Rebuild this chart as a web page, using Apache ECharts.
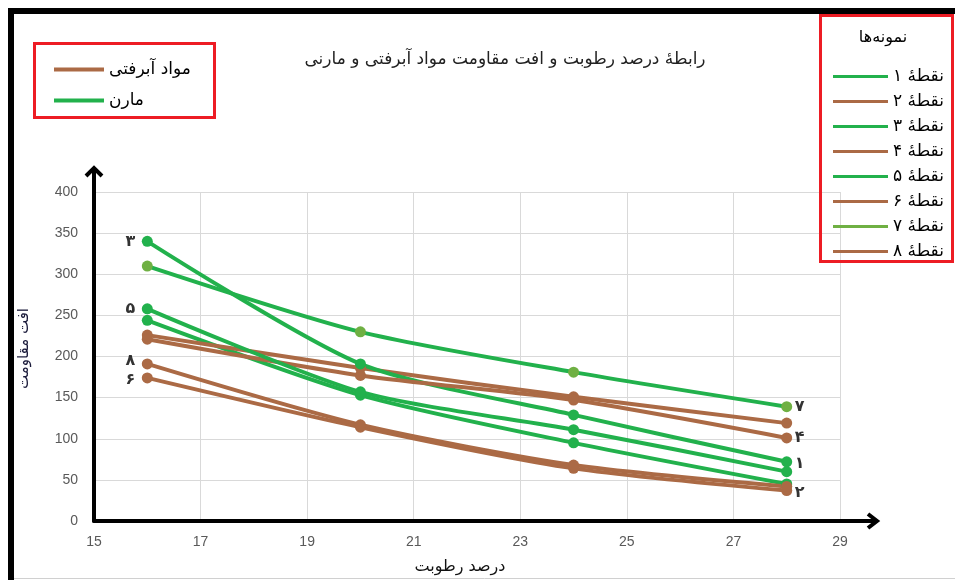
<!DOCTYPE html>
<html>
<head>
<meta charset="utf-8">
<script src="https://cdn.jsdelivr.net/npm/echarts@6/dist/echarts.min.js"></script>
<style>
html,body{margin:0;padding:0;background:#fff;}
#chart{width:955px;height:580px;}
</style>
</head>
<body>
<div id="chart"></div>
<script>
// ---- data ----
const titleText = 'رابطهٔ درصد رطوبت و افت مقاومت مواد آبرفتی و مارنی';
const xAxisName = 'درصد رطوبت';
const yAxisName = 'افت مقاومت';
const legendTitle = 'نمونه‌ها';
const groupNames = ['مواد آبرفتی', 'مارن'];
const moisture = [16, 20, 24, 28];
const seriesNames = ['نقطهٔ ۱', 'نقطهٔ ۲', 'نقطهٔ ۳', 'نقطهٔ ۴', 'نقطهٔ ۵', 'نقطهٔ ۶', 'نقطهٔ ۷', 'نقطهٔ ۸'];
const p1 = [244, 153, 95, 45];
const p2 = [226, 186, 151, 119];
const p3 = [340, 191, 129, 72];
const p4 = [221, 177, 147, 101];
const p5 = [258, 157, 111, 60];
const p6 = [174, 114, 64, 37];
const p7 = [310, 230, 181, 139];
const p8 = [191, 117, 68, 42];
const seriesValues = [p1, p2, p3, p4, p5, p6, p7, p8];
// group of each series: 0 = alluvial (brown), 1 = marl (green)
const seriesGroup = [1, 0, 1, 0, 1, 0, 1, 0];
// number annotations on points: [label, x, y, side]
const pointLabels = [
  ['۳', 16, 340, 'left'],
  ['۵', 16, 258, 'left'],
  ['۸', 16, 195, 'left'],
  ['۶', 16, 172, 'left'],
  ['۷', 28, 139, 'right'],
  ['۴', 28, 101, 'right'],
  ['۱', 28, 70, 'right'],
  ['۲', 28, 34, 'right']
];
const xTicks = {min: 15, max: 29, interval: 2};
const yTicks = {min: 0, max: 400, interval: 50};

// ---- styles ----
const BROWN = '#AB6A45';
const GREEN = '#22B14C';
const groupColors = [BROWN, GREEN];
const FONT = 'DejaVu Sans';

const chart = echarts.init(document.getElementById('chart'), null, {renderer: 'canvas'});

const series = seriesNames.map((name, i) => ({
  name: name,
  type: 'line',
  smooth: 0.25,
  data: moisture.map((x, j) => [x, seriesValues[i][j]]),
  symbol: 'circle',
  symbolSize: 11,
  lineStyle: {width: 4, color: groupColors[seriesGroup[i]]},
  itemStyle: {color: i === 6 ? '#6FB043' : groupColors[seriesGroup[i]]},
  emphasis: {disabled: true},
  z: 3
}));
groupNames.forEach((g, k) => {
  series.push({
    name: g, type: 'line', data: [],
    lineStyle: {color: groupColors[k]}, itemStyle: {color: groupColors[k]}
  });
});
series.push({
  type: 'scatter',
  name: 'labels',
  symbolSize: 0,
  z: 5,
  data: pointLabels.map(p => ({
    name: p[0], value: [p[1], p[2]],
    label: {position: p[3], distance: p[3] === 'left' ? 12 : 8}
  })),
  label: {
    show: true, formatter: '{b}', color: '#000',
    fontFamily: FONT, fontSize: 16, fontWeight: 'bold'
  },
  silent: true
});

chart.setOption({
  animation: false,
  backgroundColor: '#fff',
  title: {
    text: titleText, left: 500, top: 46, textAlign: 'center',
    textStyle: {fontFamily: FONT, fontSize: 17, fontWeight: 'normal', color: '#222'}
  },
  grid: {left: 94, right: 115, top: 192, bottom: 59},
  xAxis: {
    type: 'value', min: xTicks.min, max: xTicks.max, interval: xTicks.interval,
    name: xAxisName, nameLocation: 'middle', nameGap: 38,
    nameTextStyle: {fontFamily: FONT, fontSize: 16, color: '#111', padding: [0, 14, 0, 0]},
    axisLine: {show: true, onZero: false, lineStyle: {color: '#000', width: 4}},
    axisTick: {show: false},
    axisLabel: {margin: 14, color: '#595959', fontFamily: 'Liberation Sans', fontSize: 14},
    splitLine: {show: true, lineStyle: {color: '#D9D9D9', width: 1}}
  },
  yAxis: {
    type: 'value', min: yTicks.min, max: yTicks.max, interval: yTicks.interval,
    name: yAxisName, nameLocation: 'middle', nameGap: 62, nameRotate: 90,
    nameTextStyle: {fontFamily: FONT, fontSize: 15, color: '#1a1a3a', padding: [0, 0, 0, 16]},
    axisLine: {show: true, lineStyle: {color: '#000', width: 4}},
    axisTick: {show: false},
    axisLabel: {margin: 16, color: '#595959', fontFamily: 'Liberation Sans', fontSize: 14},
    splitLine: {show: true, lineStyle: {color: '#D9D9D9', width: 1}}
  },
  legend: [
    {
      data: seriesNames, orient: 'vertical', left: 828, top: 63,
      icon: 'rect', itemWidth: 55, itemHeight: 3, itemGap: 8,
      selectedMode: false,
      textStyle: {fontFamily: FONT, fontSize: 17, color: '#000'}
    },
    {
      data: groupNames, orient: 'vertical', left: 49, top: 56,
      icon: 'rect', itemWidth: 50, itemHeight: 4, itemGap: 14,
      selectedMode: false,
      textStyle: {fontFamily: FONT, fontSize: 17, color: '#000'}
    }
  ],
  series: series
});

// decorations: frame, boxes, axis arrows
const o = chart.convertToPixel({gridIndex: 0}, [xTicks.min, yTicks.min]);
const xe = chart.convertToPixel({gridIndex: 0}, [xTicks.max, yTicks.min]);
const ye = chart.convertToPixel({gridIndex: 0}, [xTicks.min, yTicks.max]);
const xArrowEnd = xe[0] + 37;
const yArrowEnd = ye[1] - 24;
chart.setOption({
  graphic: [
    {type: 'line', shape: {x1: 8, y1: 11, x2: 955, y2: 11}, style: {stroke: '#000', lineWidth: 6}},
    {type: 'line', shape: {x1: 11, y1: 8, x2: 11, y2: 580}, style: {stroke: '#000', lineWidth: 6}},
    {type: 'line', shape: {x1: 14, y1: 578.5, x2: 955, y2: 578.5}, style: {stroke: '#D0D0D0', lineWidth: 1}},
    {type: 'rect', shape: {x: 34.5, y: 43.5, width: 180, height: 74}, style: {fill: 'none', stroke: '#ED1C24', lineWidth: 3}},
    {type: 'rect', shape: {x: 820.5, y: 15.5, width: 132, height: 246}, style: {fill: 'none', stroke: '#ED1C24', lineWidth: 3}},
    {type: 'text', x: 883, y: 38, style: {text: legendTitle, fontFamily: FONT, fontSize: 16, fill: '#000', align: 'center', verticalAlign: 'middle'}},
    {type: 'line', z: 10, shape: {x1: xe[0], y1: o[1], x2: xArrowEnd - 2, y2: o[1]}, style: {stroke: '#000', lineWidth: 4}},
    {type: 'polyline', z: 10, shape: {points: [[xArrowEnd - 9, o[1] - 7], [xArrowEnd, o[1]], [xArrowEnd - 9, o[1] + 7]]}, style: {stroke: '#000', lineWidth: 4, fill: 'none'}},
    {type: 'line', z: 10, shape: {x1: o[0], y1: ye[1], x2: o[0], y2: yArrowEnd + 2}, style: {stroke: '#000', lineWidth: 4}},
    {type: 'polyline', z: 10, shape: {points: [[o[0] - 8, yArrowEnd + 8], [o[0], yArrowEnd], [o[0] + 8, yArrowEnd + 8]]}, style: {stroke: '#000', lineWidth: 4, fill: 'none'}}
  ]
});
</script>
</body>
</html>
